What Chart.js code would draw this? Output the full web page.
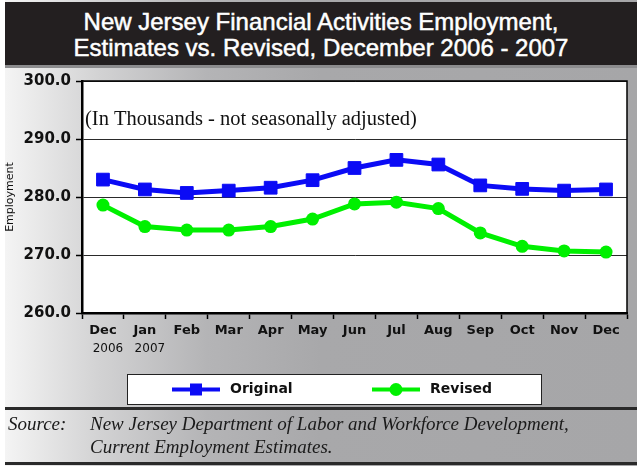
<!DOCTYPE html>
<html>
<head>
<meta charset="utf-8">
<script src="https://cdn.jsdelivr.net/npm/chart.js@4"></script>
<style>
  html,body{margin:0;padding:0;background:#fff;}
  #wrap{position:relative;width:637px;height:466px;overflow:hidden;background:#fff;}
  #bg{position:absolute;left:5px;top:0;right:0;bottom:0;
      background:linear-gradient(to right,#f4f4f4 0%,#d2d2d3 15%,#b4b4b6 32%,#a8a8aa 50%,#a6a6a8 100%);}
  #title{position:absolute;left:5px;top:2px;width:632px;height:66px;background:#231f20;
      border-bottom:3px solid #8c8c8e;color:#fff;text-align:center;
      font-family:'Liberation Sans',Arial,sans-serif;font-size:24px;line-height:26px;
      -webkit-text-stroke:0.5px #fff;
      box-sizing:border-box;padding-top:7px;}
  .rule{position:absolute;left:5px;right:0;background:#2a2a2a;}
  #chart{position:absolute;left:0;top:0;}
  .src{position:absolute;font-family:'Liberation Serif','Times New Roman',serif;font-style:italic;
      font-size:19px;color:#1a1a1a;white-space:nowrap;}
</style>
</head>
<body>
<div id="wrap">
  <div id="bg"></div>
  <div id="title">New Jersey Financial Activities Employment,<br>Estimates vs. Revised, December 2006 - 2007</div>
  <div class="rule" style="top:407px;height:3px;"></div>
  <div class="rule" style="top:462px;height:3px;"></div>
  <canvas id="chart" width="637" height="466"></canvas>
  <div class="src" style="left:8px;top:413px;">Source:</div>
  <div class="src" style="left:90px;top:413px;">New Jersey Department of Labor and Workforce Development,</div>
  <div class="src" style="left:90px;top:436px;">Current Employment Estimates.</div>
</div>
<script>
const months = ['Dec','Jan','Feb','Mar','Apr','May','Jun','Jul','Aug','Sep','Oct','Nov','Dec'];
const years = ['2006','2007','','','','','','','','','','',''];
const original = [283.0,281.3,280.7,281.1,281.6,282.9,285.0,286.4,285.6,282.0,281.4,281.1,281.3];
const revised = [278.6,274.9,274.3,274.3,274.9,276.2,278.8,279.1,278.0,273.8,271.5,270.7,270.5];
const yTicks = [260,270,280,290,300];
const subtitle = '(In Thousands - not seasonally adjusted)';

const BLUE = '#0b0bf5';
const GREEN = '#00f000';

const decor = {
  id:'decor',
  beforeDraw(chart){
    const {ctx, chartArea:a} = chart;
    ctx.save();
    ctx.fillStyle = '#ffffff';
    ctx.fillRect(a.left, a.top, a.right-a.left, a.bottom-a.top);
    ctx.restore();
  },
  afterDraw(chart){
    const {ctx, chartArea:a, scales} = chart;
    ctx.save();
    ctx.strokeStyle = '#000';
    ctx.lineWidth = 1.5;
    ctx.beginPath();
    ctx.moveTo(a.left, a.top);
    ctx.lineTo(a.right, a.top);
    ctx.lineTo(a.right, a.bottom);
    ctx.stroke();
    ctx.fillStyle = '#111';
    ctx.font = "20.5px 'Liberation Serif', serif";
    ctx.textBaseline = 'middle';
    ctx.textAlign = 'left';
    ctx.fillText(subtitle, a.left + 3, 120);
    ctx.font = "12px 'DejaVu Sans', sans-serif";
    ctx.textAlign = 'center';
    ctx.fillStyle = '#111';
    years.forEach((yr,i)=>{
      if(!yr) return;
      ctx.fillText(yr, scales.x.getPixelForValue(i) + 5, 349);
    });
    const bx = 127.5, by = 374.5, bw = 414, bh = 30;
    ctx.fillStyle = '#fff';
    ctx.fillRect(bx, by, bw, bh);
    ctx.strokeStyle = '#222';
    ctx.lineWidth = 1;
    ctx.strokeRect(bx, by, bw, bh);
    const cy = by + bh/2;
    const items = [{x:172, ds:chart.data.datasets[0]},{x:372, ds:chart.data.datasets[1]}];
    items.forEach(it=>{
      const ds = it.ds;
      ctx.strokeStyle = ds.borderColor;
      ctx.lineWidth = 4;
      ctx.beginPath();
      ctx.moveTo(it.x, cy);
      ctx.lineTo(it.x+48, cy);
      ctx.stroke();
      ctx.fillStyle = ds.pointBackgroundColor;
      if(ds.pointStyle === 'rect'){
        ctx.fillRect(it.x+24-6, cy-6, 12, 12);
      } else {
        ctx.beginPath();
        ctx.arc(it.x+24, cy, 6.5, 0, Math.PI*2);
        ctx.fill();
      }
      ctx.fillStyle = '#111';
      ctx.font = "bold 14px 'DejaVu Sans', sans-serif";
      ctx.textAlign = 'left';
      ctx.textBaseline = 'middle';
      ctx.fillText(ds.label, it.x+58, cy);
    });
    ctx.restore();
  }
};

new Chart(document.getElementById('chart'), {
  type:'line',
  data:{
    labels: months,
    datasets:[
      {label:'Original', data:original, borderColor:BLUE, backgroundColor:BLUE,
       pointBackgroundColor:BLUE, pointBorderColor:BLUE, borderWidth:5,
       pointStyle:'rect', pointRadius:9, pointBorderWidth:1, tension:0},
      {label:'Revised', data:revised, borderColor:GREEN, backgroundColor:GREEN,
       pointBackgroundColor:GREEN, pointBorderColor:GREEN, borderWidth:5,
       pointStyle:'circle', pointRadius:6.5, pointBorderWidth:0, tension:0}
    ]
  },
  options:{
    responsive:false, animation:false, devicePixelRatio:1,
    layout:{padding:{left:0, top:81, right:10, bottom:106}},
    plugins:{legend:{display:false}, tooltip:{enabled:false}},
    scales:{
      x:{
        offset:true,
        grid:{offset:true, drawOnChartArea:false, color:'#000', tickLength:6, tickWidth:1.5},
        border:{color:'#000', width:2.5},
        ticks:{font:{family:'DejaVu Sans', weight:'bold', size:13}, color:'#111', padding:4,
               maxRotation:0, autoSkip:false},
        afterFit(s){ s.height = 47; }
      },
      y:{
        min:yTicks[0], max:yTicks[yTicks.length-1],
        afterBuildTicks(s){ s.ticks = yTicks.map(v=>({value:v})); },
        ticks:{callback:v=>Number(v).toFixed(1), font:{family:'DejaVu Sans', weight:'bold', size:15},
               color:'#111', padding:5},
        grid:{color:'#2a2a2a', lineWidth:1, tickLength:6, tickColor:'#000', tickWidth:1.5},
        border:{color:'#000', width:2.5},
        title:{display:true, text:'Employment', font:{family:'DejaVu Sans', size:11}, color:'#111',
               padding:{top:4, bottom:0}},
        afterFit(s){ s.width = 82; }
      }
    }
  },
  plugins:[decor]
});
</script>
</body>
</html>
